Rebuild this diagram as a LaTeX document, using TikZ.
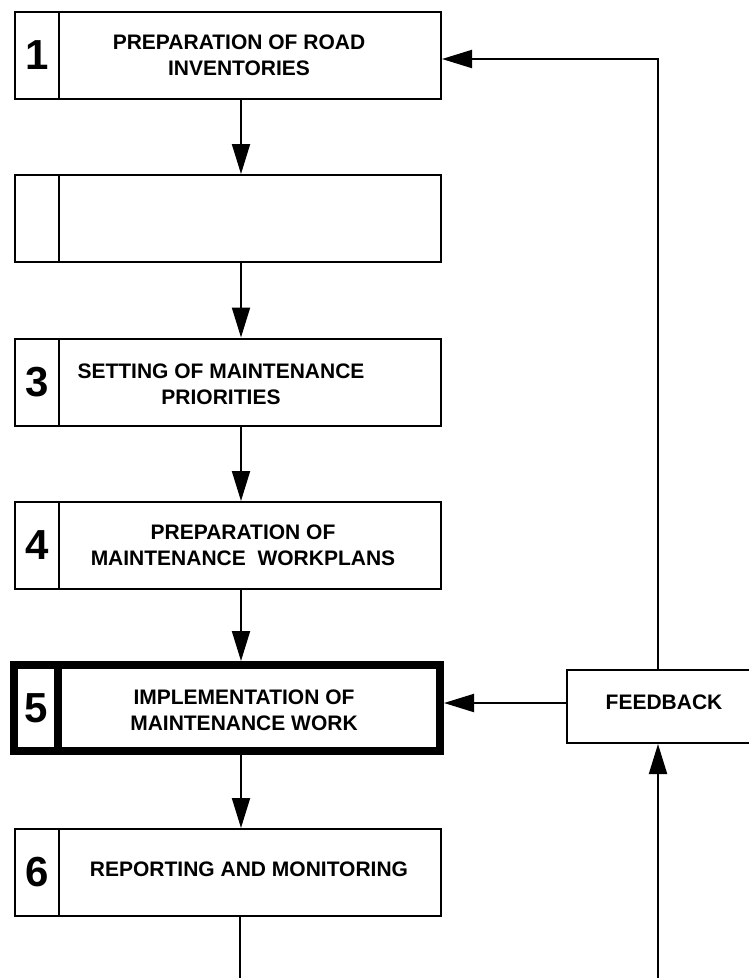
\documentclass[tikz,border=0pt]{standalone}
\usepackage{fontspec}
\setmainfont{Liberation Sans}
\usetikzlibrary{arrows.meta}
\begin{document}
\begin{tikzpicture}[x=1pt,y=-1pt,
  numcell/.style={draw, line width=2pt, minimum width=44pt, minimum height=87pt, inner sep=0pt, font=\fontsize{42}{42}\selectfont\bfseries},
  maincell/.style={draw, line width=2pt, minimum width=382pt, minimum height=87pt, inner sep=0pt},
  thickbox/.style={line width=8pt},
  txt/.style={inner sep=0pt, align=center, font=\fontsize{21}{26.5}\selectfont\bfseries},
  conn/.style={line width=2pt, -{Triangle[length=30pt,width=18pt]}},
  plainline/.style={line width=2pt}]
\useasboundingbox (0,0) rectangle (749,978);
\clip (0,0) rectangle (749,978);

% box 1
\node[numcell] (n1) at (37,55) {1};
\node[maincell] (m1) at (250,55) {};
\node[txt] (t1) at (239,55.5) {PREPARATION OF ROAD\\INVENTORIES};
% box 2
\node[numcell] (n2) at (37,218.5) {};
\node[maincell] (m2) at (250,218.5) {};
% box 3
\node[numcell] (n3) at (37,382) {3};
\node[maincell] (m3) at (250,382) {};
\node[txt] (t3) at (221,384.5) {SETTING OF MAINTENANCE\\PRIORITIES};
% box 4
\node[numcell] (n4) at (37,545.5) {4};
\node[maincell] (m4) at (250,545.5) {};
\node[txt] (t4) at (243,545.5) {PREPARATION OF\\MAINTENANCE\ \ WORKPLANS};
% box 5 (thick)
\node[numcell, thickbox, minimum width=43.5pt, minimum height=86pt] (n5) at (35.75,708) {5};
\node[maincell, thickbox, minimum width=382.5pt, minimum height=86pt] (m5) at (248.75,708) {};
\node[txt] (t5) at (244,710.5) {IMPLEMENTATION OF\\MAINTENANCE WORK};
% box 6
\node[numcell] (n6) at (37,872.5) {6};
\node[maincell] (m6) at (250,872.5) {};
\node[txt] (t6) at (249,869) {REPORTING AND MONITORING};
% feedback
\node[draw, line width=2pt, minimum width=195pt, minimum height=73pt, inner sep=0pt] (fb) at (664.5,706.5) {};
\node[txt] (tfb) at (664,702) {FEEDBACK};

% connectors
\coordinate (ax) at (241,0);
\coordinate (ay) at (0,703);
\coordinate (fx) at (658,0);
\coordinate (fy) at (0,59);
\coordinate (bl) at (240,990);
\coordinate (br) at (658,990);
\draw[conn] (m1.south -| ax) -- (m2.north -| ax);
\draw[conn] (m2.south -| ax) -- (m3.north -| ax);
\draw[conn] (m3.south -| ax) -- (m4.north -| ax);
\draw[conn] (m4.south -| ax) -- (m5.north -| ax);
\draw[conn] (m5.south -| ax) -- (m6.north -| ax);
\draw[plainline] (m6.south -| bl) -- (bl);
\draw[conn] (br) -- (fb.south -| br);
\draw[conn] (fb.west |- ay) -- (m5.east |- ay);
\draw[conn] (fb.north -| fx) -- (fx |- fy) -- (m1.east |- fy);
\end{tikzpicture}
\end{document}
